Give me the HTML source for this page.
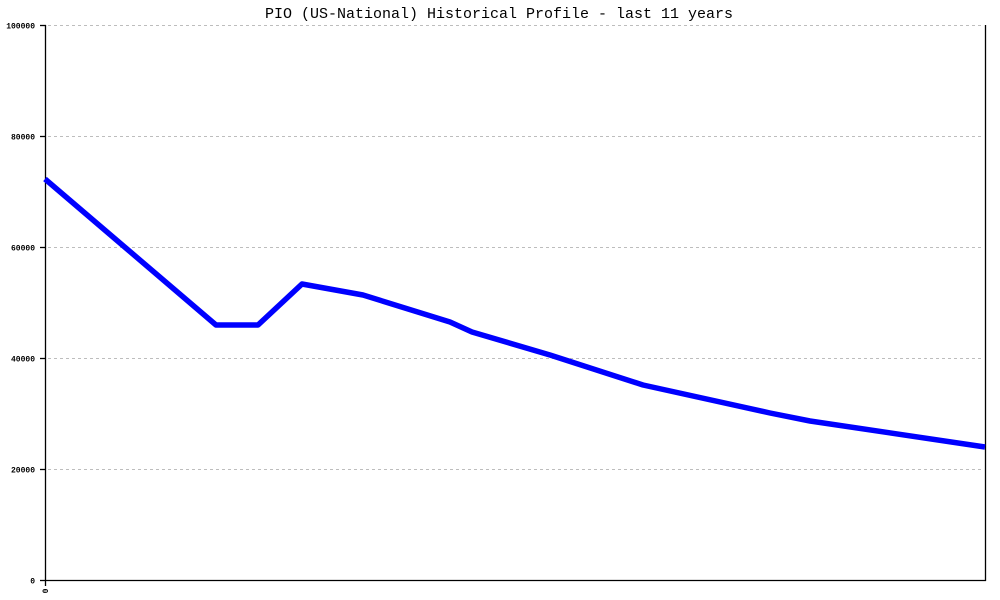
<!DOCTYPE html>
<html>
<head>
<meta charset="utf-8">
<style>
  html, body { margin: 0; padding: 0; background: #fff; }
  svg { display: block; }
  text { font-family: "Liberation Mono", "DejaVu Sans Mono", monospace; fill: #000; }
</style>
</head>
<body>
<svg width="1000" height="600" viewBox="0 0 1000 600" xmlns="http://www.w3.org/2000/svg">
  <rect x="0" y="0" width="1000" height="600" fill="#fff"/>
  <!-- title -->
  <text x="499" y="18" font-size="15" text-anchor="middle">PIO (US-National) Historical Profile - last 11 years</text>

  <!-- grid lines -->
  <g stroke="#bdbdbd" stroke-width="1" stroke-dasharray="3,3">
    <line x1="48" y1="25.5" x2="984" y2="25.5"/>
    <line x1="48" y1="136.5" x2="984" y2="136.5"/>
    <line x1="48" y1="247.5" x2="984" y2="247.5"/>
    <line x1="48" y1="358.5" x2="984" y2="358.5"/>
    <line x1="48" y1="469.5" x2="984" y2="469.5"/>
  </g>

  <!-- axes -->
  <g stroke="#000" stroke-width="1.3" fill="none">
    <line x1="45.5" y1="25" x2="45.5" y2="581"/>
    <line x1="45" y1="580.5" x2="986" y2="580.5"/>
    <line x1="985.5" y1="25" x2="985.5" y2="581"/>
    <!-- y ticks -->
    <line x1="40" y1="25.5" x2="46" y2="25.5"/>
    <line x1="40" y1="136.5" x2="46" y2="136.5"/>
    <line x1="40" y1="247.5" x2="46" y2="247.5"/>
    <line x1="40" y1="358.5" x2="46" y2="358.5"/>
    <line x1="40" y1="469.5" x2="46" y2="469.5"/>
    <line x1="40" y1="580.5" x2="46" y2="580.5"/>
    <!-- x tick -->
    <line x1="45.5" y1="580" x2="45.5" y2="586"/>
  </g>

  <!-- y labels -->
  <g font-size="8" font-weight="bold" text-anchor="end">
    <text x="35" y="28.5">100000</text>
    <text x="35" y="139.5">80000</text>
    <text x="35" y="250.5">60000</text>
    <text x="35" y="361.5">40000</text>
    <text x="35" y="472.5">20000</text>
    <text x="35" y="583.5">0</text>
  </g>

  <!-- x label -->
  <text x="0" y="0" font-size="8" font-weight="bold" text-anchor="middle" transform="translate(48,591) rotate(-90)">0</text>

  <!-- data line -->
  <polyline fill="none" stroke="#0000ff" stroke-width="5.5" stroke-linejoin="round" stroke-linecap="butt"
    points="45,179 216,325 258,325 302,284 363,295 450,322 472,332 550,355 643,385 770,413 810,421 985,447"/>
</svg>
</body>
</html>
